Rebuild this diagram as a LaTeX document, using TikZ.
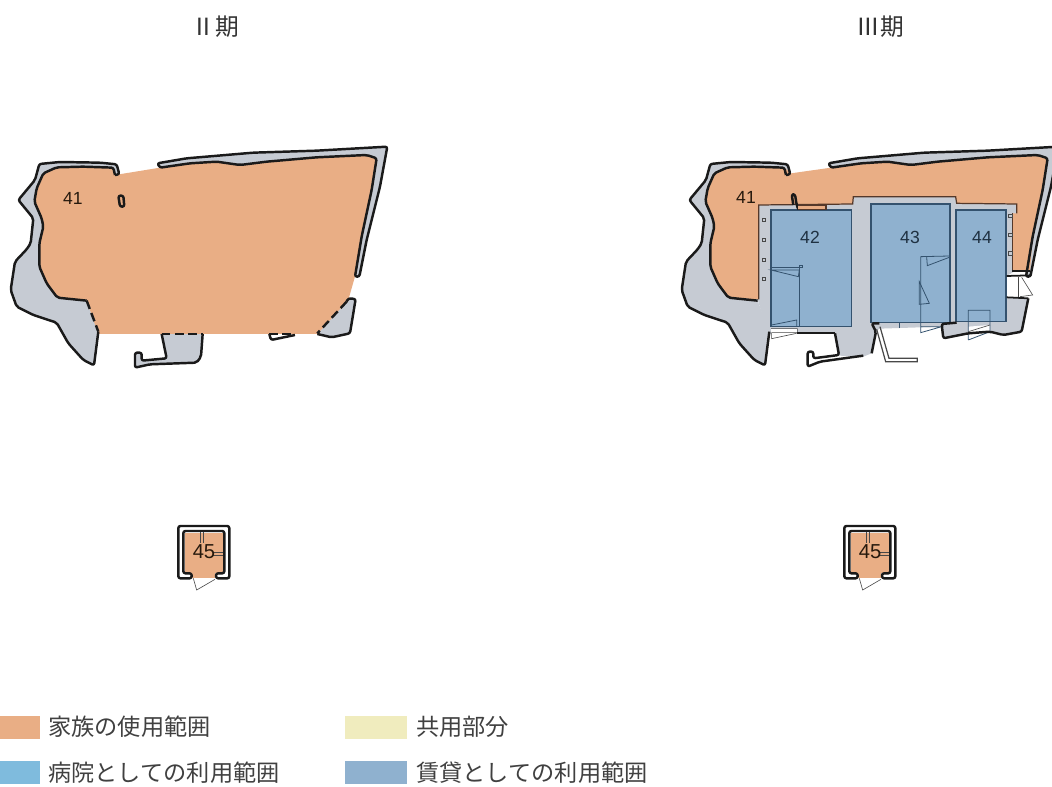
\documentclass[tikz,border=0pt]{standalone}
\usepackage{fontspec}
\setmainfont{Liberation Sans}
\newfontfamily\cjk{Noto Sans CJK JP}
\usetikzlibrary{positioning}

\definecolor{famorange}{HTML}{E9AE85}
\definecolor{wallgray}{HTML}{C6CBD3}
\definecolor{rentblue}{HTML}{8FB1CF}
\definecolor{hospblue}{HTML}{7FBBDD}
\definecolor{shareyellow}{HTML}{F0ECBE}
\definecolor{inkline}{HTML}{1A1A1A}
\definecolor{roomline}{HTML}{34526E}
\definecolor{brownline}{HTML}{54382A}

% outer walls, the same on both plans
\newcommand{\westwall}{
	\fill [wallgray] (345,135) -- (358,133) -- (350,103) -- (300,98) -- (180,96) -- (118,102) -- (105,150) -- (55,210) -- (100,265) -- (92,340) -- (80,358) -- (45,395) -- (32,480) -- (50,530) -- (100,555) -- (170,578) -- (205,640) -- (250,690) -- (282,706) -- (295,605) -- (260,512) -- (172,503) -- (140,460) -- (118,410) -- (118,340) -- (130,290) -- (125,265) -- (103,215) -- (110,175) -- (130,130) -- (170,112) -- (250,110) -- (340,113) -- cycle;
	\fill [wallgray] (472,100) -- (560,85) -- (760,68) -- (950,62) -- (1162,50) -- (1140,170) -- (1100,330) -- (1078,440) -- (1065,440) -- (1085,320) -- (1115,180) -- (1130,85) -- (1100,75) -- (950,82) -- (800,95) -- (720,105) -- (650,95) -- (570,100) -- (480,113) -- cycle;
}
\newcommand{\westlines}{
	\draw [wall] (345,135) -- (358,133) -- (350,103) -- (300,98) -- (180,96) -- (118,102) -- (105,150) -- (55,210) -- (100,265) -- (92,340) -- (80,358) -- (45,395) -- (32,480) -- (50,530) -- (100,555) -- (170,578) -- (205,640) -- (250,690) -- (282,706) -- (295,605);
	\draw [wall] (345,135) -- (340,113) -- (250,110) -- (170,112) -- (130,130) -- (110,175) -- (103,215) -- (125,265) -- (130,290) -- (118,340) -- (118,410) -- (140,460) -- (172,503) -- (260,512);
	\draw [wall] (480,113) -- (472,100) -- (560,85) -- (760,68) -- (950,62) -- (1162,50) -- (1140,170) -- (1100,330) -- (1078,440) -- (1065,440) -- (1085,320) -- (1115,180) -- (1130,85) -- (1100,75) -- (950,82) -- (800,95) -- (720,105) -- (650,95) -- (570,100) -- cycle;
}
% the small hut, coordinates as on a 3x crop
\newcommand{\hut}{
	\fill [famorange] (75,68) rectangle (190,190);
	\fill [famorange] (97,190) rectangle (166,205);
	\draw [wall] (55,48) -- (208,48) -- (208,205) -- (168,205) -- (168,190) -- (193,190) -- (193,63) -- (70,63) -- (70,190) -- (95,190) -- (95,205) -- (55,205) -- cycle;
	\draw [thinline] (120,65) -- (120,100) (130,65) -- (130,100);
	\draw [thinline] (160,128) -- (190,128) (160,135) -- (190,135);
	\draw [thinline] (100,205) -- (110,240) -- (165,208);
}

\begin{document}
\begin{tikzpicture}[x=.02cm,y=-.02cm,node distance=.46cm]

	\tikzstyle{crop}=[x=.006667cm,y=-.006667cm]
	\tikzstyle{wall}=[draw=inkline,line width=1.4pt,line join=round,rounded corners=1.2pt]
	\tikzstyle{dashwall}=[draw=inkline,line width=1.4pt,dashed,dash pattern=on 5pt off 2.5pt]
	\tikzstyle{thinline}=[draw=inkline!80,line width=.35pt]
	\tikzstyle{edgeline}=[draw=brownline,line width=.7pt]
	\tikzstyle{room}=[fill=rentblue,draw=roomline,line width=.7pt]
	\tikzstyle{roomthin}=[draw=roomline,line width=.45pt]
	\tikzstyle{title}=[font=\cjk\fontsize{13.5}{15}\selectfont,text=black!80]
	\tikzstyle{number}=[font=\fontsize{10}{12}\selectfont,text=black!80!brown]
	\tikzstyle{roomno}=[font=\fontsize{10}{12}\selectfont,text=roomline!60!black]
	\tikzstyle{swatch}=[rectangle,inner sep=0,outer sep=0,minimum width=.8cm,minimum height=.46cm]
	\tikzstyle{legend}=[font=\cjk\fontsize{13.2}{15}\selectfont,text=black!75,inner sep=0]

	\useasboundingbox (0,0) rectangle (1052,787);
	\clip (0,0) rectangle (1052,787);

	\node [title] (phaseII) at (215,27) {Ⅱ期};
	\node [title] (phaseIII) at (880,27) {Ⅲ期};

	% left plan
	\begin{scope}[shift={(0,130)},crop]
		\westwall
		\fill [wallgray] (1045,505) -- (1067,507) -- (1050,610) -- (995,622) -- (952,612) -- cycle;
		\fill [wallgray] (485,612) -- (608,612) -- (603,680) -- (590,698) -- (450,703) -- (405,713) -- (405,668) -- (425,668) -- (425,692) -- (500,685) -- cycle;
		\fill [famorange] (345,135) -- (480,113) -- (570,100) -- (650,95) -- (720,105) -- (800,95) -- (950,82) -- (1100,75) -- (1130,85) -- (1115,180) -- (1085,320) -- (1065,440) -- (1045,510) -- (952,612) -- (295,612) -- (260,512) -- (172,503) -- (140,460) -- (118,410) -- (118,340) -- (130,290) -- (125,265) -- (103,215) -- (110,175) -- (130,130) -- (170,112) -- (250,110) -- (340,113) -- cycle;
		\westlines
		\draw [dashwall] (260,512) -- (295,605);
		\draw [dashwall] (1040,515) -- (952,610);
		\draw [dashwall] (485,612) -- (608,612);
		\draw [dashwall] (808,612) -- (885,612);
		\draw [wall] (1040,515) -- (1045,505) -- (1067,507) -- (1050,610) -- (995,622) -- (952,612);
		\draw [wall] (485,612) -- (500,685) -- (425,692) -- (425,668) -- (405,668) -- (405,713) -- (450,703) -- (590,698) -- (603,680) -- (608,612);
		\draw [wall] (808,612) -- (813,630) -- (885,615);
		\draw [wall] (355,197) -- (370,197) -- (373,230) -- (360,230) -- cycle;
	\end{scope}
	\node [number] (num41a) at (73,198) {41};

	% right plan
	\begin{scope}[shift={(670,130)},crop]
		\begin{scope}[shift={(3,0)}]
			\westwall
		\end{scope}
		\fill [wallgray] (262,505) -- (266,225) -- (548,222) -- (550,200) -- (857,200) -- (860,220) -- (1040,222) -- (1040,420) -- (1010,438) -- (1010,502) -- (1075,505) -- (1055,605) -- (1000,615) -- (960,605) -- (895,610) -- (820,625) -- (815,590) -- (628,596) -- (618,605) -- (605,670) -- (580,680) -- (507,677) -- (495,610) -- (305,608) -- (296,620) -- cycle;
		\fill [famorange] (363,130) -- (483,113) -- (573,100) -- (653,95) -- (723,105) -- (803,95) -- (953,82) -- (1103,75) -- (1133,85) -- (1118,180) -- (1088,320) -- (1080,423) -- (1027,423) -- (1027,250) -- (1040,250) -- (1040,222) -- (860,220) -- (857,200) -- (550,200) -- (548,222) -- (266,225) -- (266,508) -- (175,503) -- (143,460) -- (121,410) -- (121,340) -- (133,290) -- (128,265) -- (106,215) -- (113,175) -- (133,130) -- (173,112) -- (253,110) -- (343,113) -- cycle;
		\begin{scope}[shift={(3,0)}]
			\westlines
		\end{scope}
		\draw [edgeline] (266,508) -- (266,225) -- (548,222) -- (550,200) -- (857,200) -- (860,220) -- (1040,222) -- (1040,250);
		\draw [edgeline] (1027,250) -- (1027,423);
		% rooms
		\draw [room] (303,240) rectangle (545,590);
		\draw [room] (603,222) rectangle (840,578);
		\draw [room] (858,240) rectangle (1008,575);
		\draw [wall] (370,225) -- (365,193) -- (375,193) -- (380,225) -- (385,238);
		\fill [famorange] (385,227) rectangle (468,239);
		\draw [edgeline] (385,227) -- (468,227) -- (468,239);
		\draw [edgeline] (385,239) -- (468,239);
		% room 42
		\draw [roomthin] (303,412) -- (398,412) -- (398,405) -- (388,405) -- (388,590);
		\draw [roomthin] (303,420) -- (388,420) -- (385,440) -- cycle;
		\draw [roomthin] (305,585) -- (380,570) -- (380,590);
		\fill [white] (303,596) rectangle (382,608);
		\draw [thinline] (303,596) -- (382,596) -- (382,608) -- (305,608) -- (305,626) -- (380,610);
		% room 43
		\draw [roomthin] (840,378) -- (752,380) -- (752,608) -- (815,590) -- (752,590);
		\draw [roomthin] (770,380) -- (772,407) -- (838,382);
		\draw [roomthin] (748,455) -- (748,523) -- (778,520) -- cycle;
		\draw [roomthin] (687,578) -- (687,595);
		% room 44
		\fill [white] (895,590) -- (960,585) -- (960,605) -- (895,610) -- cycle;
		\draw [roomthin] (895,630) -- (895,541) -- (960,541) -- (960,605) -- (895,630);
		\draw [thinline] (895,605) -- (960,585);
		% pegs on the two long walls
		\foreach \y in {265,325,385,442}
			\draw [thinline,fill=wallgray] (276,\y) rectangle (287,\y+10);
		\foreach \y in {252,310,365}
			\draw [thinline,fill=wallgray] (1015,\y) rectangle (1026,\y+10);
		% south side
		\draw [wall,line width=1pt] (1027,423) -- (1080,423);
		\draw [wall,line width=1pt] (1010,438) -- (1085,436);
		\draw [wall,line width=1pt] (1010,502) -- (1075,505);
		\draw [thinline,line width=.5pt] (1045,442) -- (1045,500);
		\draw [thinline] (1055,442) -- (1088,495) -- (1050,500);
		\draw [wall] (1075,505) -- (1055,605) -- (1000,615) -- (960,605) -- (895,610) -- (820,625) -- (815,582) -- (860,578);
		\draw [wall,line width=1pt] (382,610) -- (495,610);
		\draw [wall] (495,610) -- (507,675) -- (430,685) -- (430,665) -- (413,665) -- (413,710) -- (450,695) -- (580,677);
		\draw [wall] (605,670) -- (618,605) -- (605,580) -- (628,580);
		\draw [thinline,line width=.7pt] (620,598) -- (647,695) -- (742,695) -- (742,685) -- (657,685) -- (630,590);
	\end{scope}
	\node [number] (num41b) at (746,197) {41};
	\node [roomno] (num42) at (810,237) {42};
	\node [roomno] (num43) at (910,237) {43};
	\node [roomno] (num44) at (982,237) {44};

	% huts
	\begin{scope}[shift={(160,510)},crop]
		\hut
	\end{scope}
	\begin{scope}[shift={(826,510)},crop]
		\hut
	\end{scope}
	\node [number,font=\fontsize{11.5}{13}\selectfont] (num45a) at (204,552) {45};
	\node [number,font=\fontsize{11.5}{13}\selectfont] (num45b) at (870,552) {45};

	% legend
	\node [swatch,fill=famorange] (keyfamily) at (20,727) {};
	\node [swatch,fill=hospblue,below=of keyfamily] (keyhospital) {};
	\node [swatch,fill=shareyellow,minimum width=1.24cm] (keyshared) at (376,727) {};
	\node [swatch,fill=rentblue,minimum width=1.24cm,below=of keyshared] (keyrent) {};
	\node [legend,right=.16cm of keyfamily] (txtfamily) {家族の使用範囲};
	\node [legend,right=.16cm of keyhospital] (txthospital) {病院としての利用範囲};
	\node [legend,right=.18cm of keyshared] (txtshared) {共用部分};
	\node [legend,right=.18cm of keyrent] (txtrent) {賃貸としての利用範囲};
\end{tikzpicture}
\end{document}
